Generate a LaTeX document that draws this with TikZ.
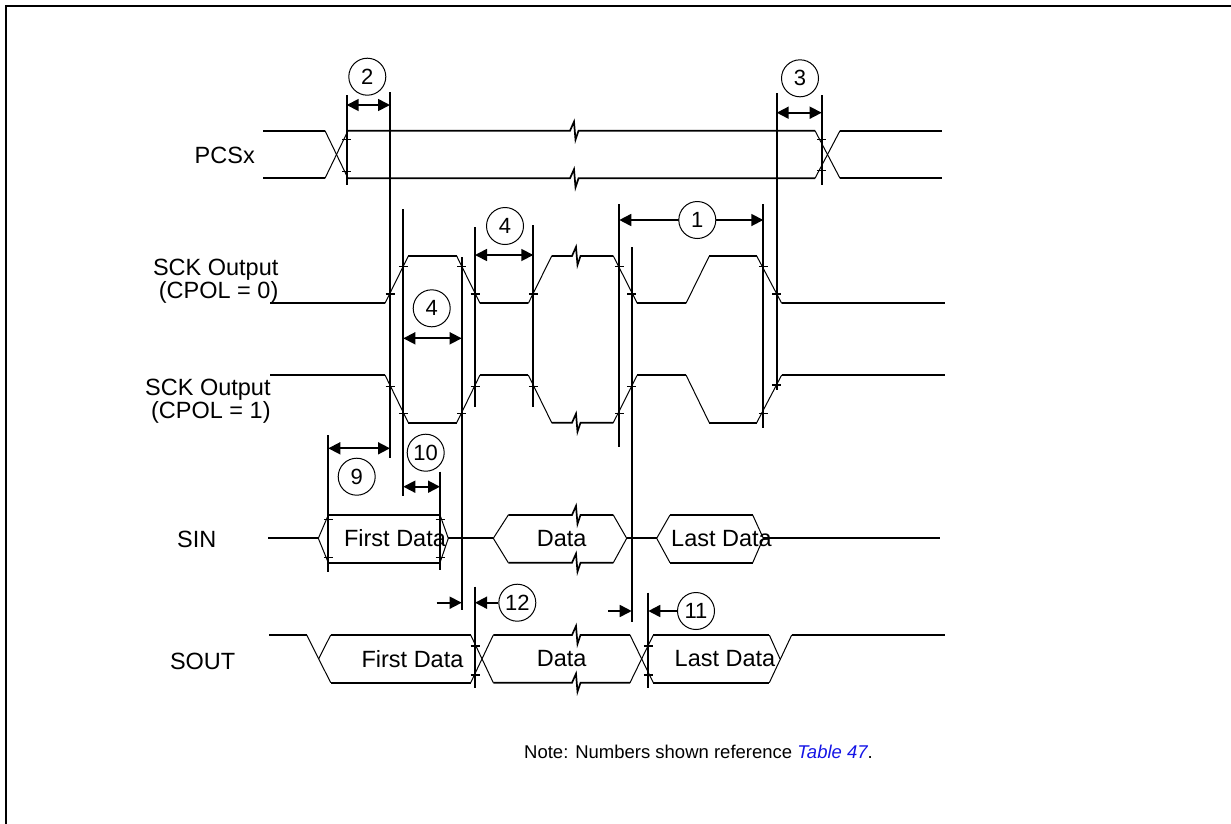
\documentclass[tikz,border=0pt]{standalone}
\usepackage{fontspec}
\setmainfont{Liberation Sans}
\usetikzlibrary{arrows.meta}
\newcommand\sigbreak[2]{-- ({#1-4},#2) -- ({#1},{#2-9}) -- ({#1+1.5},{#2+9}) -- ({#1+4.5},#2)}
\newcommand\tickat[2]{\draw[tk] ({#1-4.5},#2) -- ({#1+4.5},#2);}
\tikzset{
  sig/.style={line width=1.7pt},
  tr/.style={line width=1pt},
  vl/.style={line width=1.7pt},
  tk/.style={line width=1.5pt},
  dim/.style={line width=1.7pt,{Triangle[length=12pt,width=12pt]}-{Triangle[length=12pt,width=12pt]}},
  onearr/.style={line width=1.7pt,-{Triangle[length=12pt,width=12pt]}},
  num/.style={circle,draw,line width=1pt,fill=white,minimum size=37pt,inner sep=0pt,font=\fontsize{22}{22}\selectfont},
  lbl/.style={inner sep=0pt,anchor=base east,font=\fontsize{23.5}{28}\selectfont},
  dtxt/.style={inner sep=0pt,font=\fontsize{23.5}{28}\selectfont},
}
\begin{document}
\begin{tikzpicture}[x=1pt,y=-1pt]
\useasboundingbox (0,0) rectangle (1231,823);
% frame
\draw[line width=2pt] (5.5,830) -- (5.5,5.7) -- (1240,5.7);

% ---------- labels ----------
\node[lbl] (lpcs) at (255,163.3) {PCSx};
\node[lbl] (lsck0a) at (278.6,275) {SCK Output};
\node[lbl] (lsck0b) at (278.6,298) {(CPOL = 0)};
\node[lbl] (lsck1a) at (270.8,395.7) {SCK Output};
\node[lbl] (lsck1b) at (270.8,418.7) {(CPOL = 1)};
\node[lbl] (lsin) at (216.6,547.4) {SIN};
\node[lbl] (lsout) at (235.5,669.8) {SOUT};

% ---------- PCSx ----------
\draw[sig] (263,130.7) -- (325,130.7);
\draw[sig] (263,178.3) -- (325,178.3);
\draw[tr] (325,130.7) -- (348,178.3);
\draw[tr] (325,178.3) -- (348,130.7);
\draw[sig] (348,130.7) \sigbreak{574}{130.7} -- (815,130.7);
\draw[sig] (348,178.3) \sigbreak{574}{178.3} -- (815,178.3);
\draw[tr] (815,130.7) -- (840,178.3);
\draw[tr] (815,178.3) -- (840,130.7);
\draw[sig] (840,130.7) -- (942,130.7);
\draw[sig] (840,178.3) -- (942,178.3);
\tickat{346.7}{139.3}
\tickat{346.7}{171.7}
\tickat{821.7}{139.3}
\tickat{821.7}{170.7}

% ---------- SCK CPOL=0 ----------
\draw[sig] (270,303.3) -- (385,303.3);
\draw[tr] (385,303.3) -- (408.3,256);
\draw[sig] (408.3,256) -- (456.7,256);
\draw[tr] (456.7,256) -- (480,303.3);
\draw[sig] (480,303.3) -- (528.3,303.3);
\draw[tr] (528.3,303.3) -- (551.7,256);
\draw[sig] (551.7,256) \sigbreak{576}{256} -- (613.3,256);
\draw[tr] (613.3,256) -- (637.3,303.3);
\draw[sig] (637.3,303.3) -- (686,303.3);
\draw[tr] (686,303.3) -- (709.3,256);
\draw[sig] (709.3,256) -- (756.7,256);
\draw[tr] (756.7,256) -- (781.7,303.3);
\draw[sig] (781.7,303.3) -- (945,303.3);
\foreach \x/\y in {390/294,403.3/266.7,461.7/266.7,475/294,533.3/294,619.3/266.7,631.7/294,763.3/266.7,776.7/294}
  {\tickat{\x}{\y}}

% ---------- SCK CPOL=1 ----------
\draw[sig] (270,375) -- (385,375);
\draw[tr] (385,375) -- (408.3,422.7);
\draw[sig] (408.3,422.7) -- (456.7,422.7);
\draw[tr] (456.7,422.7) -- (480,375);
\draw[sig] (480,375) -- (528.3,375);
\draw[tr] (528.3,375) -- (551.7,422.7);
\draw[sig] (551.7,422.7) \sigbreak{576}{422.7} -- (613.3,422.7);
\draw[tr] (613.3,422.7) -- (637.3,375);
\draw[sig] (637.3,375) -- (686,375);
\draw[tr] (686,375) -- (709.3,422.7);
\draw[sig] (709.3,422.7) -- (756.7,422.7);
\draw[tr] (756.7,422.7) -- (781.7,375);
\draw[sig] (781.7,375) -- (945,375);
\foreach \x/\y in {390/386.7,403.3/413.3,461.7/413.3,475/386.7,533.3/386.7,619.3/413.3,631.7/386.7,763.3/413.3,776.7/385}
  {\tickat{\x}{\y}}

% ---------- SIN ----------
\draw[sig] (268.3,538.3) -- (318.3,538.3);
\draw[tr] (328.3,515) -- (318.3,538.3) -- (328.3,562.7);
\draw[sig] (328.3,515) -- (440,515);
\draw[sig] (328.3,562.7) -- (440,562.7);
\draw[tr] (440,515) -- (448.3,538.3) -- (440,562.7);
\draw[sig] (448.3,538.3) -- (493.3,538.3);
\draw[tr] (508.3,515) -- (493.3,538.3) -- (508.3,562.7);
\draw[sig] (508.3,515) \sigbreak{576}{515} -- (613.3,515);
\draw[sig] (508.3,562.7) \sigbreak{576}{562.7} -- (613.3,562.7);
\draw[tr] (613.3,515) -- (626.7,538.3) -- (613.3,562.7);
\draw[sig] (626.7,538.3) -- (656.7,538.3);
\draw[tr] (670,515) -- (656.7,538.3) -- (670,562.7);
\draw[sig] (670,515) -- (752.7,515);
\draw[sig] (670,562.7) -- (752.7,562.7);
\draw[tr] (752.7,515) -- (763.3,538.3) -- (752.7,562.7);
\draw[sig] (763.3,538.3) -- (940,538.3);
\tickat{328.3}{519.3}
\tickat{328.3}{557.3}
\tickat{440}{519.3}
\tickat{440}{557.3}
\node[dtxt] (sin1) at (395,538.3) {First Data};
\node[dtxt] (sin2) at (561.7,538.3) {Data};
\node[dtxt] (sin3) at (721.5,538.3) {Last Data};

% ---------- SOUT ----------
\draw[sig] (269.3,635) -- (306.7,635);
\draw[tr] (306.7,635) -- (330.7,682.7);
\draw[tr] (318.7,658.8) -- (330.7,635);
\draw[sig] (330.7,635) -- (470.7,635);
\draw[sig] (330.7,682.7) -- (470.7,682.7);
\draw[tr] (470.7,635) -- (493.3,682.7);
\draw[tr] (470.7,682.7) -- (493.3,635);
\draw[sig] (493.3,635) \sigbreak{576}{635} -- (630,635);
\draw[sig] (493.3,682.7) \sigbreak{576}{682.7} -- (630,682.7);
\draw[tr] (630,635) -- (653.3,682.7);
\draw[tr] (630,682.7) -- (653.3,635);
\draw[sig] (653.3,635) -- (769.3,635);
\draw[sig] (653.3,682.7) -- (769.3,682.7);
\draw[tr] (769.3,635) -- (780,658.8);
\draw[tr] (769.3,682.7) -- (791.7,635);
\draw[sig] (791.7,635) -- (945,635);
\tickat{475}{646}
\tickat{475}{675}
\tickat{648.3}{646}
\tickat{648.3}{675}
\node[dtxt] (sout1) at (412.5,658.8) {First Data};
\node[dtxt] (sout2) at (561.7,658.8) {Data};
\node[dtxt] (sout3) at (725,658.8) {Last Data};

% ---------- vertical reference lines ----------
\foreach \x/\a/\b in {346.7/95/185, 390/92/458, 776.7/93/390, 821.7/95/185,
  403.3/209/496, 461.7/257/610, 475/227/407, 533.3/225/407, 619.3/204/447,
  631.7/247/621.7, 763.3/204/428, 328.3/435/571.7, 440/471.7/570,
  475/586.7/688, 648.3/592.7/688.3}
  {\draw[vl] (\x,\a) -- (\x,\b);}

% ---------- dimension arrows ----------
\draw[dim] (346.7,105) -- (390,105);
\node[num] (n2) at (367.3,76.7) {2};
\draw[dim] (776.7,112.7) -- (821.7,112.7);
\node[num] (n3) at (800,78.3) {3};
\draw[dim] (475,255) -- (533.3,255);
\node[num] (n4a) at (505,226) {4};
\draw[dim] (403.3,338.3) -- (461.7,338.3);
\node[num] (n4b) at (431.7,308.3) {4};
\draw[dim] (619.3,220) -- (763.3,220);
\node[num] (n1) at (697.3,220) {1};
\draw[dim] (328.3,448.3) -- (390,448.3);
\node[num] (n9) at (356.7,476.7) {9};
\draw[dim] (403.3,486.7) -- (440,486.7);
\node[num] (n10) at (425.7,452.7) {10};
\coordinate (a12) at (436.7,602.7);
\node[num] (n12) at (517.3,602.7) {12};
\draw[onearr] (a12) -- (461.7,602.7);
\draw[onearr] (n12.west) -- (475,602.7);
\coordinate (a11) at (608.3,611);
\node[num] (n11) at (696,611) {11};
\draw[onearr] (a11) -- (631.7,611);
\draw[onearr] (n11.west) -- (648.3,611);

% ---------- note ----------
\node[inner sep=0pt,anchor=base west,font=\fontsize{18.5}{22}\selectfont] (note) at (524,758.3)
  {Note: Numbers shown reference \textcolor[RGB]{20,20,230}{\itshape Table 47}.};
\end{tikzpicture}
\end{document}
